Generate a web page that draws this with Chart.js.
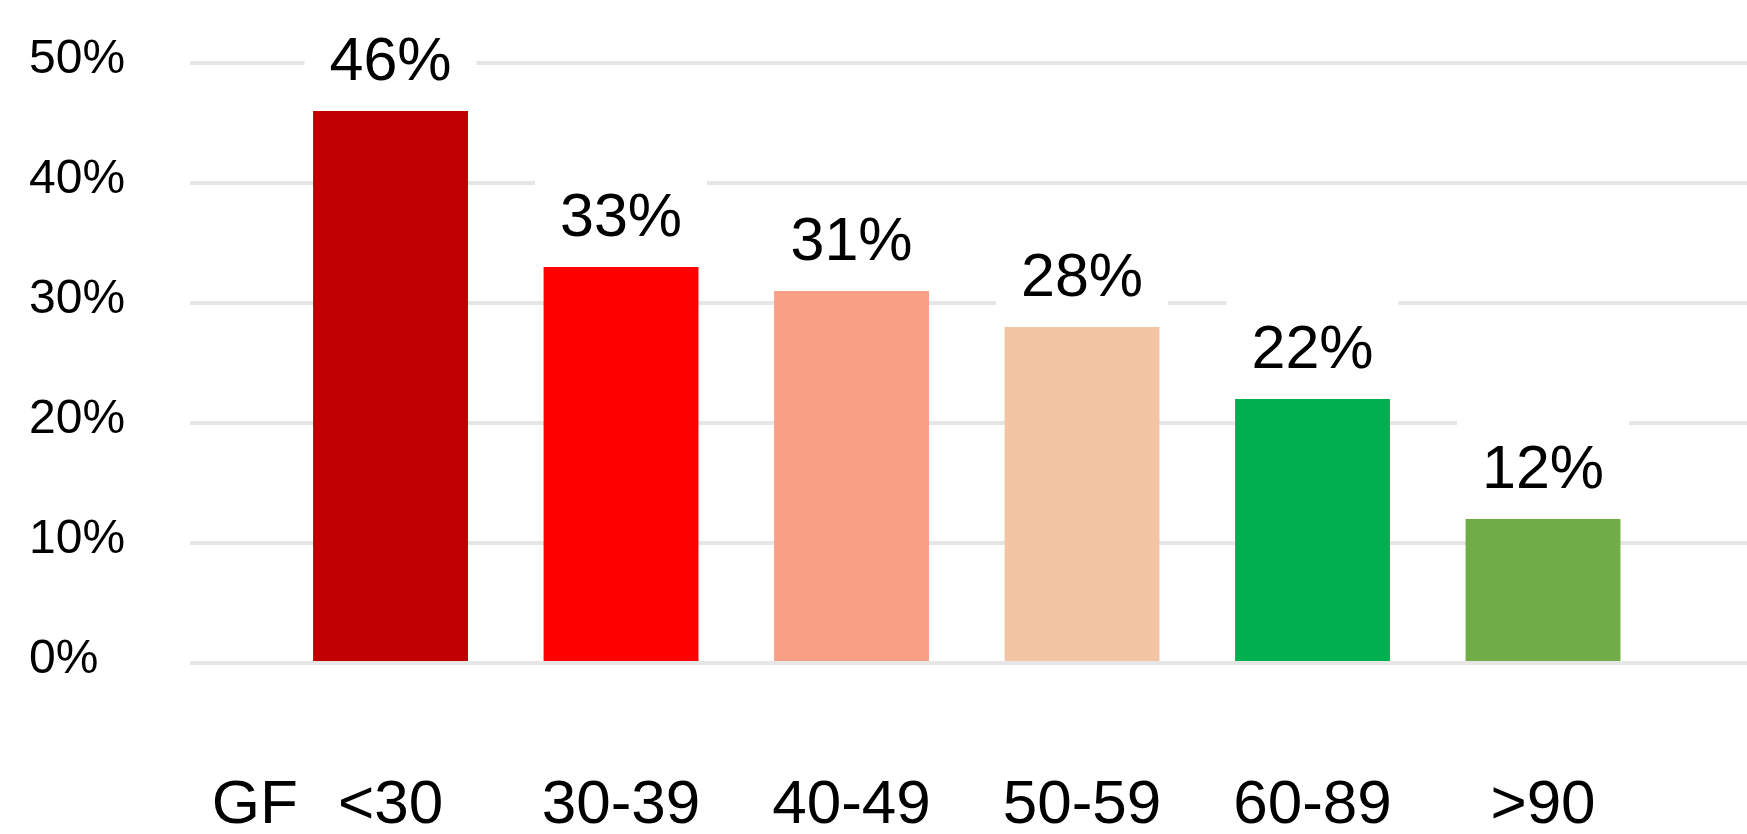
<!DOCTYPE html>
<html>
<head>
<meta charset="utf-8">
<script src="https://cdn.jsdelivr.net/npm/chart.js@4/dist/chart.umd.min.js"></script>
<style>
  html, body { margin: 0; padding: 0; background: #fff; }
  #wrap { width: 1747px; height: 834px; position: relative; }
</style>
</head>
<body>
<div id="wrap"><canvas id="c"></canvas></div>
<script>
// GFR bands and share of patients per band
var categories = ['<30', '30-39', '40-49', '50-59', '60-89', '>90'];
var values = [46, 33, 31, 28, 22, 12];
var barColors = ['#c00000', '#ff0000', '#f9a084', '#f4c5a5', '#00b050', '#70ad47'];
var yTicks = [0, 10, 20, 30, 40, 50];
var axisPrefix = 'GF';

var FONT = "Arial, 'Liberation Sans', sans-serif";

// value labels above each bar, on a white patch that hides the grid behind them
var valueLabels = {
  id: 'valueLabels',
  afterDatasetsDraw: function (chart) {
    var ctx = chart.ctx;
    var meta = chart.getDatasetMeta(0);
    ctx.save();
    ctx.font = '61px ' + FONT;
    ctx.textAlign = 'center';
    ctx.textBaseline = 'alphabetic';
    meta.data.forEach(function (bar, i) {
      var base = bar.y - 31;
      var top = base - 44 - 27;
      ctx.fillStyle = '#fff';
      ctx.fillRect(bar.x - 86, top, 172, bar.y - top - 1);
      ctx.fillStyle = '#000';
      ctx.fillText(values[i] + '%', bar.x, base);
    });
    ctx.restore();
  }
};

// "GF" prefix left of the first band label
var axisPrefixLabel = {
  id: 'axisPrefixLabel',
  afterDraw: function (chart) {
    var ctx = chart.ctx;
    var x = chart.scales.x;
    var opts = x.options.ticks;
    ctx.save();
    ctx.font = '62px ' + FONT;
    var right = x.getPixelForValue(0) - ctx.measureText(categories[0]).width / 2 - 40;
    ctx.fillStyle = '#000';
    ctx.textAlign = 'right';
    ctx.textBaseline = 'middle';
    ctx.fillText(axisPrefix, right, x.top + opts.padding + 62 * 1.2 / 2);
    ctx.restore();
  }
};

new Chart(document.getElementById('c'), {
  type: 'bar',
  data: {
    datasets: [{
      data: values.map(function (v, i) { return { x: i, y: v }; }),
      backgroundColor: barColors,
      borderWidth: 0,
      barPercentage: 1,
      categoryPercentage: 0.672
    }]
  },
  options: {
    responsive: true,
    maintainAspectRatio: false,
    animation: false,
    layout: { padding: { left: 29, top: 63, right: 0, bottom: 0 } },
    plugins: { legend: { display: false }, tooltip: { enabled: false } },
    scales: {
      x: {
        type: 'linear',
        offset: false,
        min: -0.87,
        max: 5.885,
        grid: { display: false, drawTicks: false },
        border: { display: false },
        afterBuildTicks: function (scale) {
          scale.ticks = categories.map(function (c, i) { return { value: i }; });
        },
        afterFit: function (scale) { scale.height = 171; },
        ticks: {
          autoSkip: false,
          maxRotation: 0,
          padding: 106,
          color: '#000',
          font: { family: FONT, size: 62 },
          callback: function (v) { return categories[v]; }
        }
      },
      y: {
        min: 0,
        max: 50,
        afterBuildTicks: function (scale) {
          scale.ticks = yTicks.map(function (v) { return { value: v }; });
        },
        afterFit: function (scale) { scale.width = 161; },
        grid: { color: '#e6e6e6', lineWidth: 4, drawTicks: false },
        border: { display: false },
        ticks: {
          crossAlign: 'far',
          labelOffset: -3,
          color: '#000',
          font: { family: FONT, size: 48 },
          callback: function (v) { return v + '%'; }
        }
      }
    }
  },
  plugins: [valueLabels, axisPrefixLabel]
});
</script>
</body>
</html>
